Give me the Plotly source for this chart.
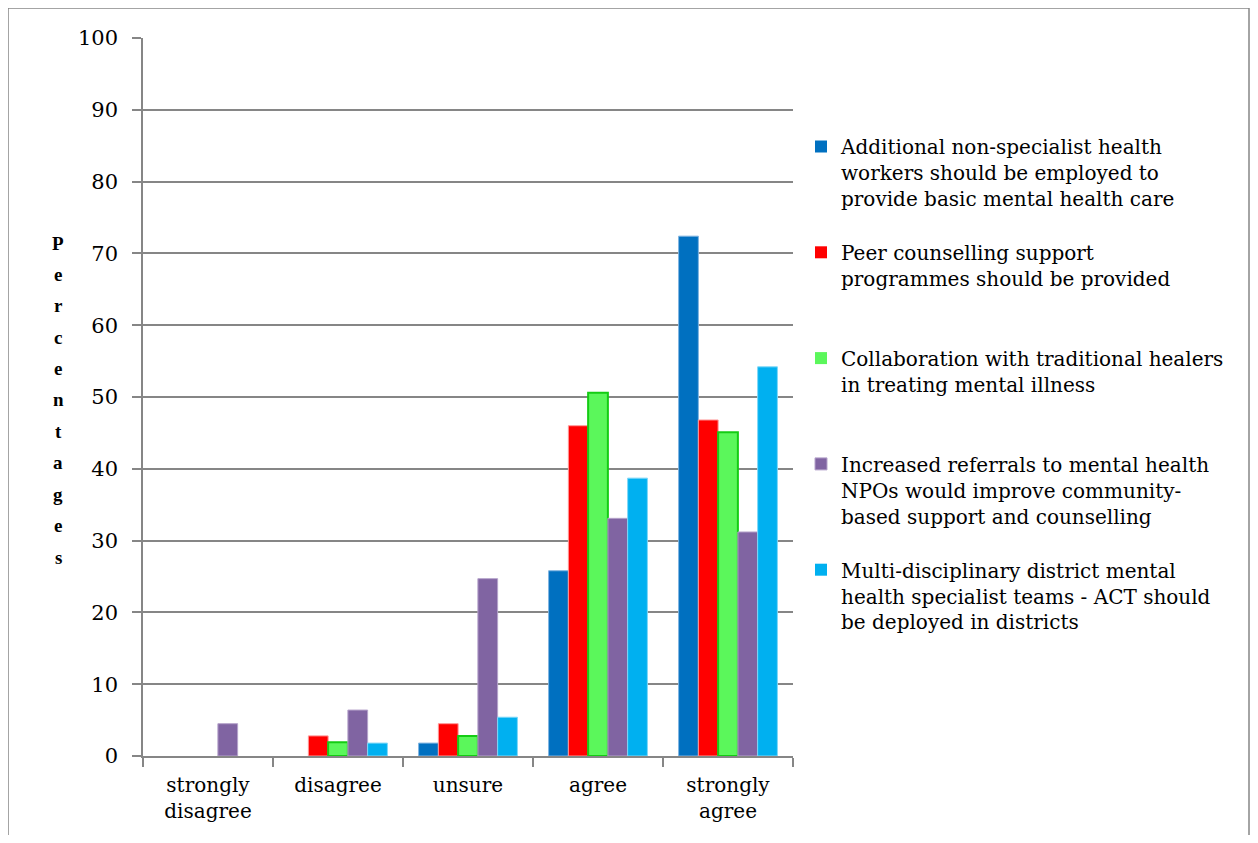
import plotly.graph_objects as go

categories = ["strongly<br>disagree", "disagree", "unsure", "agree", "strongly<br>agree"]

series_names = [
    "Additional non-specialist health<br>workers should be employed to<br>provide basic mental health care",
    "Peer counselling support<br>programmes should be provided<br> ",
    "Collaboration with traditional healers<br>in treating mental illness<br> ",
    "Increased referrals to mental health<br>NPOs would improve community-<br>based support and counselling",
    "Multi-disciplinary district mental<br>health specialist teams - ACT should<br>be deployed in districts",
]

non_specialist = [0, 0, 1.8, 25.8, 72.4]
peer_counselling = [0, 2.8, 4.5, 46.0, 46.8]
traditional_healers = [0, 1.9, 2.8, 50.6, 45.1]
npo_referrals = [4.5, 6.4, 24.7, 33.1, 31.2]
district_teams = [0, 1.8, 5.4, 38.7, 54.2]

values = [non_specialist, peer_counselling, traditional_healers, npo_referrals, district_teams]
fills = ["#0070C0", "#FF0000", "#5BF75B", "#8064A2", "#00B0F0"]
edges = ["#7FB3E0", "#FF9999", "#14CC14", "#B5A3CB", "#7FD7F7"]
edge_w = [1, 1, 2, 1, 1]

y_ticks = list(range(0, 101, 10))
axis_title = "Percentages"

fig = go.Figure()
for name, vals, fc, ec, ew in zip(series_names, values, fills, edges, edge_w):
    fig.add_trace(go.Bar(
        x=categories, y=vals, name=name, legendgroup=name,
        marker=dict(color=fc, line=dict(color=ec, width=[ew if v > 0 else 0 for v in vals])),
    ))

FONT = "DejaVu Serif, Liberation Serif, serif"
OFF = 8  # page body margin
W, H = 1242, 827
L, T = 135, 30
R = W - 785
B = H - 748
pw, ph = W - L - R, H - T - B

def px_x(x):
    return (x - OFF - L) / pw

def px_y(y):
    return (H - B - (y - OFF)) / ph

fig.update_layout(
    width=W, height=H,
    margin=dict(l=L, r=R, t=T, b=B),
    paper_bgcolor="white", plot_bgcolor="white",
    barmode="group", bargap=0.24, bargroupgap=0,
    font=dict(family=FONT, color="black"),
    showlegend=True,
    legend=dict(
        x=px_x(801), y=px_y(127), xanchor="left", yanchor="top",
        font=dict(family=FONT, size=20, color="black"),
        tracegroupgap=24.8, valign="top", bgcolor="rgba(0,0,0,0)",
    ),
    xaxis=dict(
        type="category", tickson="boundaries", ticks="outside", ticklen=9,
        tickcolor="#868686", tickwidth=1.5,
        showline=True, linecolor="#868686", linewidth=1.5,
        tickfont=dict(family=FONT, size=20, color="black"),
        ticklabelstandoff=10,
        showgrid=False, fixedrange=True,
    ),
    yaxis=dict(
        range=[0, 100], tickvals=y_ticks, ticks="outside", ticklen=9,
        tickcolor="#868686", tickwidth=1.5,
        showline=True, linecolor="#868686", linewidth=1.5,
        showgrid=True, gridcolor="#868686", gridwidth=1.5,
        zeroline=False,
        tickfont=dict(family=FONT, size=21, color="black"),
        ticklabelstandoff=10, fixedrange=True,
    ),
)

# y-axis title: letters stacked vertically
y0 = 243
for i, ch in enumerate(axis_title):
    fig.add_annotation(
        text=ch, x=px_x(58), y=px_y(y0 + i * 31.4),
        xref="paper", yref="paper", showarrow=False,
        font=dict(family="Liberation Serif, serif", size=19, color="black", weight="bold"),
        xanchor="center", yanchor="middle",
    )

# chart frame
fig.add_shape(
    type="rect", xref="paper", yref="paper",
    x0=px_x(8), x1=px_x(1249), y0=px_y(870), y1=px_y(8),
    line=dict(color="#868686", width=1.5), fillcolor="rgba(0,0,0,0)", layer="below",
)

fig.write_html("out.html")
